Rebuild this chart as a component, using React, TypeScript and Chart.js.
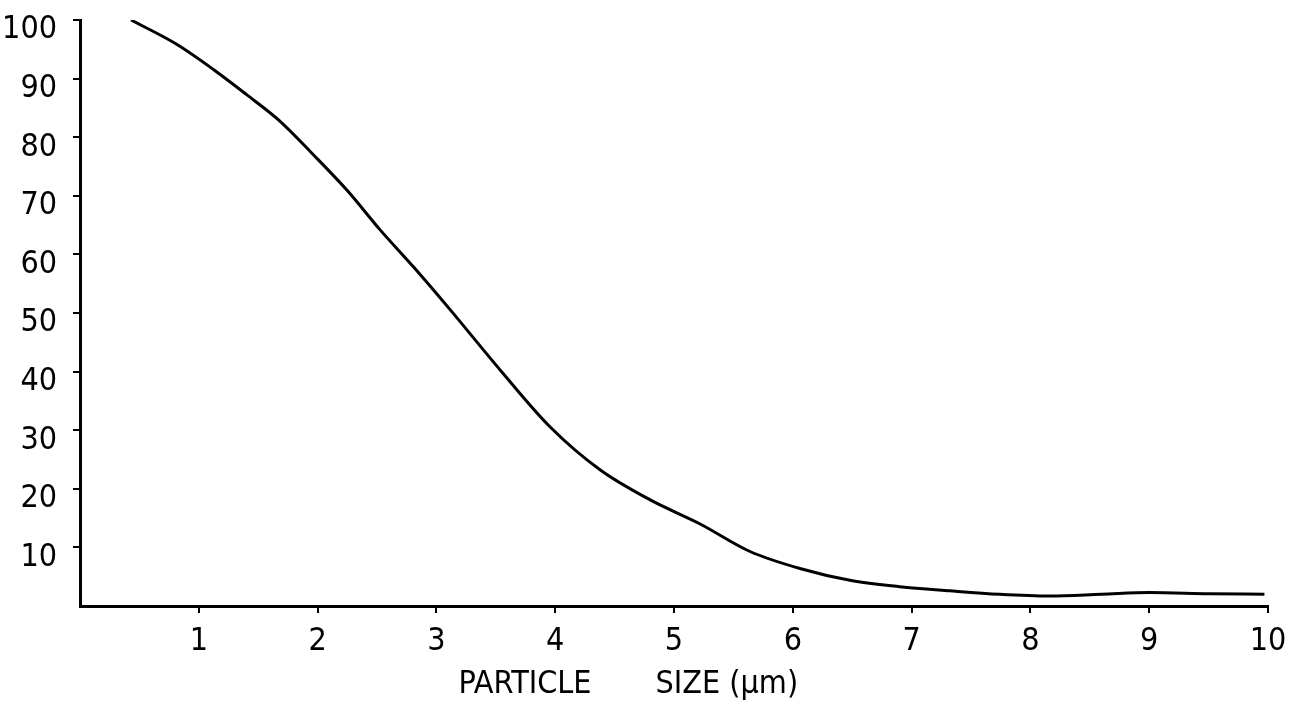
import React, { useEffect, useRef } from "react";
import { Chart, registerables } from "chart.js";

Chart.register(...registerables);

// Particle size (µm) and cumulative percentage
const sizes = [0.43, 0.81, 1.12, 1.4, 1.68, 1.96, 2.25, 2.53, 2.81, 3.11, 3.54, 3.96, 4.38, 4.8, 5.22, 5.64, 6.06, 6.48, 6.9, 7.32, 7.74, 8.16, 8.6, 9.0, 9.5, 9.97];
const percents = [100, 95.9, 91.6, 87.3, 82.8, 77.1, 70.9, 64.1, 57.8, 50.7, 40.2, 30.5, 23.2, 18.1, 14.0, 9.3, 6.4, 4.4, 3.3, 2.6, 2.0, 1.7, 2.0, 2.3, 2.1, 2.0];

const xTickValues = [1, 2, 3, 4, 5, 6, 7, 8, 9, 10];
const yTickValues = [10, 20, 30, 40, 50, 60, 70, 80, 90, 100];
const xTitleWords = ["PARTICLE", "SIZE (μm)"];

const FONT = "'Liberation Sans Narrow', 'DejaVu Sans Condensed', 'Liberation Sans', sans-serif";

export default function App() {
  const ref = useRef<HTMLCanvasElement | null>(null);

  useEffect(() => {
    if (!ref.current) return;
    const points = sizes.map((x, i) => ({ x, y: percents[i] }));
    const tickColor = (ctx: any) =>
      ctx.tick && ctx.tick.value === 0 ? "rgba(0,0,0,0)" : "#000";
    const title = xTitleWords.join(" ".repeat(7)) + " ".repeat(10);

    const chart = new Chart(ref.current, {
      type: "line",
      data: {
        datasets: [
          {
            data: points,
            borderColor: "#000",
            borderWidth: 3,
            pointRadius: 0,
            fill: false,
            cubicInterpolationMode: "monotone",
          },
        ],
      },
      options: {
        animation: false,
        responsive: true,
        maintainAspectRatio: false,
        layout: { padding: { top: 20, right: 28, bottom: 0, left: 0 } },
        plugins: {
          legend: { display: false },
          tooltip: { enabled: false },
        },
        scales: {
          x: {
            type: "linear",
            min: 0,
            max: 10,
            afterFit: (scale: any) => {
              scale.height = 101;
              scale.paddingLeft = 0;
              scale.paddingRight = 0;
            },
            afterBuildTicks: (scale: any) => {
              scale.ticks = [{ value: 0 }, ...xTickValues.map((v) => ({ value: v }))];
            },
            border: { display: true, color: "#000", width: 3 },
            grid: {
              display: true,
              drawOnChartArea: false,
              drawTicks: true,
              tickLength: 7,
              tickWidth: 2,
              color: tickColor,
              lineWidth: 2,
            },
            ticks: {
              color: "#000",
              font: { family: FONT, size: 32 },
              padding: 9,
              maxRotation: 0,
              autoSkip: false,
              callback: (v: any) => (v === 0 ? "" : String(v)),
            },
            title: {
              display: true,
              text: title,
              color: "#000",
              font: { family: FONT, size: 32 },
              padding: { top: 0, bottom: 3 },
            },
          },
          y: {
            type: "linear",
            min: 0,
            max: 100,
            afterFit: (scale: any) => {
              scale.width = 80;
              scale.paddingTop = 0;
              scale.paddingBottom = 0;
            },
            afterBuildTicks: (scale: any) => {
              scale.ticks = [{ value: 0 }, ...yTickValues.map((v) => ({ value: v }))];
            },
            border: { display: true, color: "#000", width: 3 },
            grid: {
              display: true,
              drawOnChartArea: false,
              drawTicks: true,
              tickLength: 7,
              tickWidth: 2,
              color: tickColor,
              lineWidth: 2,
            },
            ticks: {
              color: "#000",
              font: { family: FONT, size: 32 },
              padding: 16,
              labelOffset: 10,
              autoSkip: false,
              callback: (v: any) => (v === 0 ? "" : String(v)),
            },
          },
        },
      },
    });
    return () => chart.destroy();
  }, []);

  return (
    <div style={{ position: "absolute", left: 0, top: 0, width: 1296, height: 707, background: "#fff" }}>
      <canvas ref={ref} />
    </div>
  );
}
